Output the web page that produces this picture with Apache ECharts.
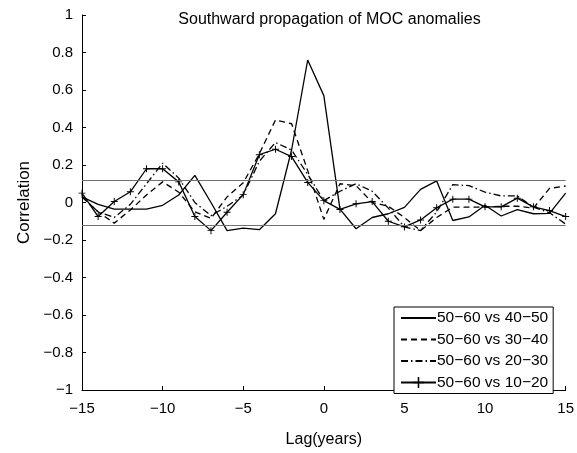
<!DOCTYPE html>
<html>
<head>
<meta charset="utf-8">
<script src="https://cdn.jsdelivr.net/npm/echarts@6/dist/echarts.min.js"></script>
<style>
html,body{margin:0;padding:0;background:#fff;}
#chart{width:577px;height:453px;}
</style>
</head>
<body>
<div id="chart"></div>
<script>
const lags = [-15,-14,-13,-12,-11,-10,-9,-8,-7,-6,-5,-4,-3,-2,-1,0,1,2,3,4,5,6,7,8,9,10,11,12,13,14,15];
const seriesNames = ['50\u221260 vs 40\u221250','50\u221260 vs 30\u221240','50\u221260 vs 20\u221230','50\u221260 vs 10\u221220'];
const s4050 = [0.03,-0.01,-0.035,-0.035,-0.035,-0.015,0.04,0.145,0.0,-0.15,-0.137,-0.145,-0.06,0.28,0.76,0.57,-0.035,-0.14,-0.08,-0.06,-0.026,0.07,0.115,-0.096,-0.077,-0.015,-0.072,-0.038,-0.06,-0.058,0.05];
const s3040 = [0.03,-0.05,-0.11,-0.04,0.04,0.11,0.055,-0.05,-0.085,0.03,0.105,0.26,0.44,0.42,0.17,-0.09,0.1,0.09,0.0,-0.02,-0.08,-0.15,-0.08,-0.025,-0.025,-0.025,-0.02,-0.02,-0.03,0.075,0.088];
const s2030 = [0.03,-0.05,-0.08,-0.01,0.1,0.21,0.13,0.0,-0.07,-0.02,0.04,0.22,0.32,0.28,0.15,0.01,0.06,0.1,0.06,-0.03,-0.13,-0.15,-0.05,0.095,0.09,0.055,0.035,0.035,-0.025,-0.055,-0.115];
const s1020 = [0.05,-0.075,0.005,0.057,0.18,0.18,0.11,-0.075,-0.15,-0.052,0.042,0.255,0.284,0.245,0.107,0.01,-0.037,-0.007,0.005,-0.1,-0.13,-0.093,-0.028,0.018,0.018,-0.023,-0.023,0.023,-0.023,-0.043,-0.075];
const sigLevels = [0.12,-0.12];
const titleText = 'Southward propagation of MOC anomalies';
const xName = 'Lag(years)';
const yName = 'Correlation';

function pairs(vals){ return lags.map((l,i)=>[l, vals[i]]); }
function fmt(v){ const r = Math.round(v*10)/10; return r < 0 ? '\u2212' + Math.abs(r) : String(r); }

const FONT = 'Liberation Sans, Arial, Helvetica, sans-serif';
const chart = echarts.init(document.getElementById('chart'), null, {renderer:'canvas'});
const lineW = 1.3;
const plusPath = 'path://M4.3,0H5.7V4.3H10V5.7H5.7V10H4.3V5.7H0V4.3H4.3Z';

const option = {
  animation:false,
  backgroundColor:'#fff',
  textStyle:{fontFamily:FONT, color:'#000'},
  title:{
    text:titleText, left:324.5, top:7, textAlign:'center',
    textStyle:{fontFamily:FONT, fontSize:16, fontWeight:'normal', color:'#000'}
  },
  grid:{left:82, right:10, top:15, bottom:59, containLabel:false},
  legend:{
    orient:'vertical', left:394, top:307,
    backgroundColor:'#fff', borderColor:'#000', borderWidth:1,
    padding:[3,5,3,6], itemGap:5.5, itemWidth:35, itemHeight:14,
    textStyle:{fontFamily:FONT, fontSize:15.5, color:'#000', padding:[0,0,0,-4]},
    data:[
      {name:seriesNames[0], itemStyle:{opacity:0}},
      {name:seriesNames[1], itemStyle:{opacity:0}},
      {name:seriesNames[2], itemStyle:{opacity:0}},
      {name:seriesNames[3]}
    ]
  },
  xAxis:{
    type:'value', min:-15, max:15, interval:5,
    name:xName, nameLocation:'middle', nameGap:42,
    nameTextStyle:{fontFamily:FONT, fontSize:16, color:'#000'},
    axisLine:{show:true, onZero:false, lineStyle:{color:'#000', width:1}},
    axisTick:{show:true, inside:true, length:4, lineStyle:{color:'#000'}},
    axisLabel:{fontFamily:FONT, fontSize:15, color:'#000', margin:11, formatter:fmt},
    splitLine:{show:false}
  },
  yAxis:{
    type:'value', min:-1, max:1, interval:0.2,
    name:yName, nameLocation:'middle', nameGap:41,
    nameTextStyle:{fontFamily:FONT, fontSize:17, color:'#000'},
    axisLine:{show:true, onZero:false, lineStyle:{color:'#000', width:1}},
    axisTick:{show:true, inside:true, length:4, lineStyle:{color:'#000'}},
    axisLabel:{fontFamily:FONT, fontSize:15, color:'#000', margin:9, formatter:fmt},
    splitLine:{show:false}
  },
  series:[
    {
      name:seriesNames[0], type:'line', data:pairs(s4050), symbol:'none',
      lineStyle:{color:'#000', width:lineW, type:'solid'}, itemStyle:{color:'#000'},
      z:3,
      markLine:{
        silent:true, symbol:['none','none'], label:{show:false},
        lineStyle:{color:'#707070', width:1.2, type:'solid'},
        data:sigLevels.map(v=>({yAxis:v}))
      }
    },
    {
      name:seriesNames[1], type:'line', data:pairs(s3040), symbol:'none',
      lineStyle:{color:'#000', width:lineW, type:[6,4]}, itemStyle:{color:'#000'}, z:3
    },
    {
      name:seriesNames[2], type:'line', data:pairs(s2030), symbol:'none',
      lineStyle:{color:'#000', width:lineW, type:[7,3,1.5,3]}, itemStyle:{color:'#000'}, z:3
    },
    {
      name:seriesNames[3], type:'line', data:pairs(s1020), symbol:plusPath, symbolSize:7,
      showSymbol:true,
      lineStyle:{color:'#000', width:lineW, type:'solid'}, itemStyle:{color:'#000'}, z:4
    }
  ]
};
chart.setOption(option);
</script>
</body>
</html>
